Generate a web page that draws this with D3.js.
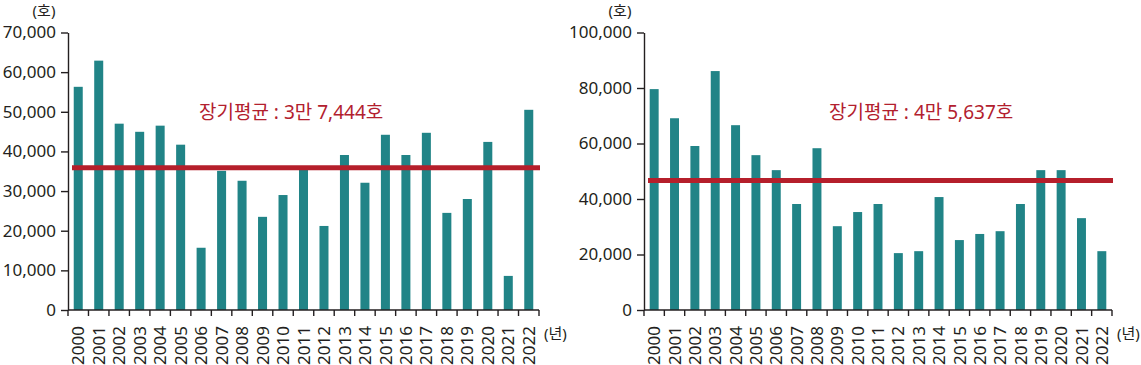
<!DOCTYPE html>
<meta charset="utf-8">
<style>
    body { margin: 0; background: #fff; }
    text { font-family: "Noto Sans", "Noto Sans CJK KR", sans-serif; fill: #231f20; }
    .axis path, .axis line { stroke: #231f20; stroke-width: 1.4; }
    .bar { fill: #218487; }
    .avg { stroke: #b51f2b; stroke-width: 5; }
    .avg-label { fill: #b2202e; font-size: 19px; }
</style>
<body>
<script src="https://cdn.jsdelivr.net/npm/d3@7"></script>
<script>
    var years = ["2000","2001","2002","2003","2004","2005","2006","2007","2008","2009","2010","2011",
                 "2012","2013","2014","2015","2016","2017","2018","2019","2020","2021","2022"];

    // left chart (호)
    var leftValues = [56300, 62900, 47000, 44950, 46500, 41700, 15700, 35100, 32600, 23500, 29000, 35400,
                      21200, 39100, 32100, 44200, 39100, 44700, 24500, 28000, 42400, 8600, 50500];
    var leftAvg = 35900;
    var leftAvgText = "장기평균 : 3만 7,444호";
    var leftTicks = [0, 10000, 20000, 30000, 40000, 50000, 60000, 70000];

    // right chart (호)
    var rightValues = [79600, 69100, 59100, 86100, 66600, 55800, 50400, 38200, 58300, 30200, 35300, 38200,
                       20500, 21200, 40700, 25200, 27400, 28400, 38200, 50400, 50400, 33100, 21200];
    var rightAvg = 46700;
    var rightAvgText = "장기평균 : 4만 5,637호";
    var rightTicks = [0, 20000, 40000, 60000, 80000, 100000];

    var svg = d3.select("body").append("svg")
        .attr("width", 1141)
        .attr("height", 365);

    function drawChart(opt) {
        var g = svg.append("g");

        var x = d3.scaleBand()
            .domain(years)
            .range([opt.x0, opt.x1])
            .paddingInner(0.56)
            .paddingOuter(0.28);

        var y = d3.scaleLinear()
            .domain([0, opt.ticks[opt.ticks.length - 1]])
            .range([310, 32.5]);

        // bars
        g.selectAll(".bar")
            .data(opt.values)
            .enter().append("rect")
            .attr("class", "bar")
            .attr("x", function (d, i) { return x(years[i]); })
            .attr("y", function (d) { return y(d); })
            .attr("width", x.bandwidth())
            .attr("height", function (d) { return y(0) - y(d); });

        // y axis
        var yAxis = g.append("g")
            .attr("class", "axis")
            .attr("transform", "translate(" + opt.x0 + ",0)")
            .call(d3.axisLeft(y).tickValues(opt.ticks).tickSize(7).tickSizeOuter(0).tickPadding(5)
                .tickFormat(d3.format(",")));
        yAxis.selectAll("text").style("font-size", "17px");

        // x axis: line, boundary ticks, rotated labels
        var xAxis = g.append("g")
            .attr("class", "axis")
            .attr("transform", "translate(0," + y(0) + ")");
        xAxis.append("line")
            .attr("x1", opt.x0).attr("x2", opt.x1);
        var bounds = years.map(function (d) { return x(d) - x.step() * x.paddingOuter(); });
        bounds.push(opt.x1);
        xAxis.selectAll(".tk")
            .data(bounds)
            .enter().append("line")
            .attr("class", "tk")
            .attr("x1", function (d) { return d; })
            .attr("x2", function (d) { return d; })
            .attr("y1", 0)
            .attr("y2", 6);
        xAxis.selectAll(".lbl")
            .data(years)
            .enter().append("text")
            .attr("class", "lbl")
            .attr("text-anchor", "end")
            .attr("dy", "0.36em")
            .style("font-size", "17px")
            .attr("transform", function (d) {
                return "translate(" + (x(d) + x.bandwidth() / 2) + ",16) rotate(-90)";
            })
            .text(function (d) { return d; });

        // units
        g.append("text")
            .attr("x", opt.x0 - 24)
            .attr("y", 16)
            .attr("text-anchor", "middle")
            .style("font-size", "15px")
            .text("(호)");
        g.append("text")
            .attr("x", opt.x1 + 5)
            .attr("y", 339)
            .style("font-size", "15px")
            .text("(년)");

        // average line + label
        g.append("line")
            .attr("class", "avg")
            .attr("x1", opt.x0 + 4)
            .attr("x2", opt.x1 + 1)
            .attr("y1", y(opt.avg))
            .attr("y2", y(opt.avg));
        g.append("text")
            .attr("class", "avg-label")
            .attr("x", opt.labelX)
            .attr("y", 119)
            .text(opt.avgText);
    }

    drawChart({ x0: 68, x1: 539, values: leftValues, avg: leftAvg, avgText: leftAvgText,
                ticks: leftTicks, labelX: 199 });
    drawChart({ x0: 644, x1: 1112, values: rightValues, avg: rightAvg, avgText: rightAvgText,
                ticks: rightTicks, labelX: 829 });
</script>
</body>
